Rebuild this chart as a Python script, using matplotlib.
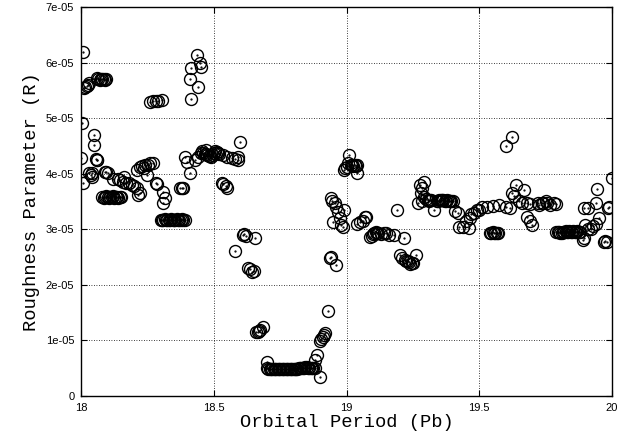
import numpy as np
import matplotlib
matplotlib.use('Agg')
import matplotlib.pyplot as plt

# orbital period (Pb) and roughness (R, in units of 1e-5)
pb = [18.006, 18.002, 18.0, 18.006,
      18.01, 18.013, 18.02, 18.025, 18.03,
      18.06, 18.065, 18.07, 18.075, 18.08, 18.085, 18.09, 18.095,
      18.05, 18.05, 18.055, 18.058, 18.06,
      18.03, 18.035, 18.042, 18.04,
      18.09, 18.095, 18.1,
      18.08, 18.085, 18.09, 18.095, 18.1, 18.105, 18.11, 18.115, 18.12, 18.125, 18.13, 18.135, 18.14, 18.145, 18.15,
      18.12, 18.137, 18.145, 18.16, 18.157, 18.17, 18.18, 18.19, 18.2, 18.21, 18.22, 18.215,
      18.21, 18.22, 18.23, 18.24, 18.25, 18.258, 18.27, 18.247, 18.235,
      18.28, 18.285, 18.31, 18.315, 18.31,
      18.258, 18.27, 18.28, 18.29, 18.303,
      18.3, 18.305, 18.31, 18.315, 18.32, 18.325, 18.33, 18.335, 18.34, 18.345,
      18.35, 18.355, 18.36, 18.365, 18.37, 18.375, 18.38, 18.385, 18.39,
      18.372, 18.378, 18.382,
      18.39, 18.4, 18.41, 18.43, 18.45, 18.47, 18.44,
      18.435, 18.446, 18.45, 18.415, 18.41, 18.44, 18.415,
      18.455, 18.46, 18.465, 18.47, 18.475, 18.48, 18.485, 18.49, 18.495, 18.5, 18.505, 18.51, 18.515, 18.52,
      18.535, 18.55, 18.567, 18.58, 18.59, 18.59,
      18.597,
      18.53, 18.535, 18.545, 18.55,
      18.608, 18.615, 18.62, 18.653,
      18.578,
      18.63, 18.637, 18.645, 18.65,
      18.66, 18.665, 18.67, 18.675, 18.684,
      18.7,
      18.70, 18.705, 18.71, 18.715, 18.72, 18.725, 18.73, 18.735, 18.74, 18.745, 18.75, 18.755,
      18.76, 18.765, 18.77, 18.775, 18.78, 18.785, 18.79, 18.795, 18.80, 18.805, 18.81, 18.815,
      18.82, 18.825, 18.83, 18.835, 18.84, 18.845, 18.85, 18.855, 18.86, 18.865, 18.87, 18.875, 18.88,
      18.88, 18.89, 18.9,
      18.9, 18.905, 18.91, 18.915, 18.92,
      18.93,
      18.937, 18.94, 18.96,
      18.94, 18.945, 18.955, 18.96, 18.967, 18.974, 18.947, 18.98, 18.986, 18.99,
      19.011, 19.005, 18.995, 19.0, 19.015, 19.025, 19.03, 19.04, 18.99, 19.04, 19.02, 19.035,
      19.04, 19.05, 19.06, 19.068, 19.075,
      19.087, 19.095, 19.1, 19.105, 19.11, 19.115, 19.12, 19.13, 19.14, 19.15, 19.16, 19.18, 19.218,
      19.19,
      19.2, 19.21, 19.22, 19.225, 19.23, 19.237, 19.24, 19.245, 19.25, 19.26,
      19.275, 19.29, 19.286, 19.28, 19.29, 19.286, 19.27,
      19.3, 19.305, 19.31, 19.315, 19.32, 19.33, 19.34, 19.345, 19.35, 19.355, 19.36, 19.365,
      19.37, 19.375, 19.38, 19.385, 19.39, 19.395, 19.4,
      19.418, 19.41,
      19.425, 19.44, 19.46, 19.45, 19.465, 19.47, 19.48, 19.49, 19.5, 19.51,
      19.54, 19.545, 19.55, 19.555, 19.56, 19.565, 19.57,
      19.53, 19.55, 19.576, 19.6, 19.614,
      19.6, 19.625,
      19.625, 19.64, 19.67, 19.63, 19.65, 19.66, 19.68, 19.69,
      19.68, 19.69, 19.7,
      19.72, 19.727, 19.735, 19.74, 19.75, 19.755, 19.765, 19.78, 19.79,
      19.79, 19.795, 19.8, 19.805, 19.81, 19.815, 19.82, 19.825, 19.83, 19.835,
      19.84, 19.845, 19.85, 19.855, 19.86, 19.865, 19.87, 19.875, 19.88,
      19.89, 19.895, 19.9, 19.91, 19.92, 19.93, 19.95, 19.94,
      19.97, 19.975, 19.98,
      19.895, 19.91, 19.94, 19.985, 19.99,
      19.945, 20.0]

rough = [6.19, 4.91, 4.28, 3.83,
         5.55, 5.56, 5.58, 5.6, 5.63,
         5.72, 5.7, 5.68, 5.7, 5.7, 5.71, 5.69, 5.7,
         4.7, 4.52, 4.26, 4.25, 4.24,
         4.01, 3.98, 3.94, 4.02,
         4.03, 4.03, 4.02,
         3.58, 3.57, 3.58, 3.59, 3.58, 3.57, 3.58, 3.58, 3.59, 3.57, 3.58, 3.58, 3.57, 3.58, 3.58,
         3.9, 3.9, 3.88, 3.94, 3.85, 3.84, 3.83, 3.8, 3.78, 3.74, 3.65, 3.62,
         4.07, 4.12, 4.14, 4.16, 4.15, 4.19, 4.19, 3.98, 4.1,
         3.83, 3.82, 3.67, 3.56, 3.47,
         5.29, 5.3, 5.3, 5.31, 5.33,
         3.17, 3.16, 3.17, 3.18, 3.17, 3.16, 3.17, 3.17, 3.18, 3.17,
         3.16, 3.17, 3.18, 3.17, 3.16, 3.17, 3.18, 3.17, 3.17,
         3.74, 3.75, 3.74,
         4.3, 4.21, 4.01, 4.25, 4.37, 4.43, 4.3,
         6.14, 6.0, 5.92, 5.9, 5.7, 5.56, 5.34,
         4.4, 4.38, 4.36, 4.35, 4.33, 4.32, 4.31, 4.3, 4.34, 4.38, 4.4, 4.39, 4.37, 4.36,
         4.34, 4.3, 4.28, 4.27, 4.3, 4.25,
         4.57,
         3.83, 3.82, 3.78, 3.74,
         2.9, 2.92, 2.88, 2.85,
         2.61,
         2.3, 2.28, 2.23, 2.25,
         1.15, 1.15, 1.17, 1.19, 1.24,
         0.61,
         0.5, 0.49, 0.48, 0.48, 0.49, 0.48, 0.48, 0.49, 0.48, 0.48, 0.49, 0.48,
         0.48, 0.49, 0.48, 0.48, 0.49, 0.48, 0.48, 0.49, 0.49, 0.48, 0.48, 0.49,
         0.5, 0.5, 0.51, 0.5, 0.5, 0.52, 0.52, 0.5, 0.5, 0.51, 0.51, 0.5, 0.5,
         0.65, 0.74, 0.35,
         0.98, 1.02, 1.06, 1.1, 1.13,
         1.53,
         2.48, 2.5, 2.36,
         3.56, 3.5, 3.47, 3.4, 3.31, 3.2, 3.13, 3.08, 3.04, 3.35,
         4.34, 4.19, 4.1, 4.12, 4.15, 4.14, 4.16, 4.16, 4.07, 4.01, 4.15, 4.14,
         3.1, 3.13, 3.15, 3.22, 3.22,
         2.86, 2.88, 2.92, 2.93, 2.95, 2.94, 2.93, 2.92, 2.93, 2.93, 2.9, 2.9, 2.84,
         3.34,
         2.54, 2.48, 2.45, 2.43, 2.42, 2.41, 2.38, 2.39, 2.4, 2.53,
         3.8, 3.85, 3.74, 3.65, 3.58, 3.5, 3.47,
         3.55, 3.52, 3.5, 3.52, 3.53, 3.35, 3.5, 3.51, 3.52, 3.52, 3.53, 3.52,
         3.5, 3.51, 3.52, 3.51, 3.5, 3.5, 3.5,
         3.29, 3.32,
         3.04, 3.04, 3.02, 3.15, 3.2, 3.28, 3.3, 3.35, 3.35, 3.4,
         2.93, 2.94, 2.95, 2.94, 2.93, 2.93, 2.93,
         3.4, 3.42, 3.43, 3.4, 3.38,
         4.5, 4.66,
         3.65, 3.8, 3.7, 3.6, 3.5, 3.48, 3.48, 3.45,
         3.22, 3.15, 3.07,
         3.48, 3.44, 3.47, 3.48, 3.5, 3.48, 3.44, 3.48, 3.45,
         2.95, 2.95, 2.95, 2.94, 2.94, 2.95, 2.95, 2.96, 2.95, 2.95,
         2.96, 2.95, 2.95, 2.96, 2.95, 2.95, 2.96, 2.95, 2.95,
         2.8, 2.85, 3.07, 3.0, 3.0, 3.05, 3.2, 3.1,
         2.77, 2.78, 2.77,
         3.38, 3.38, 3.47, 3.38, 3.4,
         3.72, 3.92]

x = np.array(pb)
y = np.array(rough) * 1e-5

fig = plt.figure(figsize=(6.2, 4.38), dpi=100)
ax = fig.add_axes([0.131, 0.096, 0.856, 0.888])

ax.plot(x, y, linestyle='none', marker='o', markersize=8.6,
        markerfacecolor='none', markeredgecolor='black', markeredgewidth=1.0)
ax.plot(x, y, linestyle='none', marker='.', markersize=1.2, color='black')

ax.set_xlim(18, 20)
ax.set_ylim(0, 7e-5)
ax.set_xticks([18, 18.5, 19, 19.5, 20])
ax.set_xticklabels(['18', '18.5', '19', '19.5', '20'])
yt = [0, 1e-5, 2e-5, 3e-5, 4e-5, 5e-5, 6e-5, 7e-5]
ax.set_yticks(yt)
ax.set_yticklabels(['0', '1e-05', '2e-05', '3e-05', '4e-05', '5e-05', '6e-05', '7e-05'])

ax.grid(True, linestyle=(0, (1, 2)), color='black', linewidth=0.6)
ax.tick_params(direction='in', top=True, right=True, length=4, width=0.8,
               labelsize=8, pad=5)
for lbl in ax.get_xticklabels() + ax.get_yticklabels():
    lbl.set_family('Liberation Sans')
for s in ax.spines.values():
    s.set_linewidth(1.0)

ax.set_xlabel('Orbital Period (Pb)', family='Liberation Mono', fontsize=13.5, labelpad=1)
ax.set_ylabel('Roughness Parameter (R)', family='Liberation Mono', fontsize=13.5, labelpad=4)

fig.savefig('out.png', dpi=100)
